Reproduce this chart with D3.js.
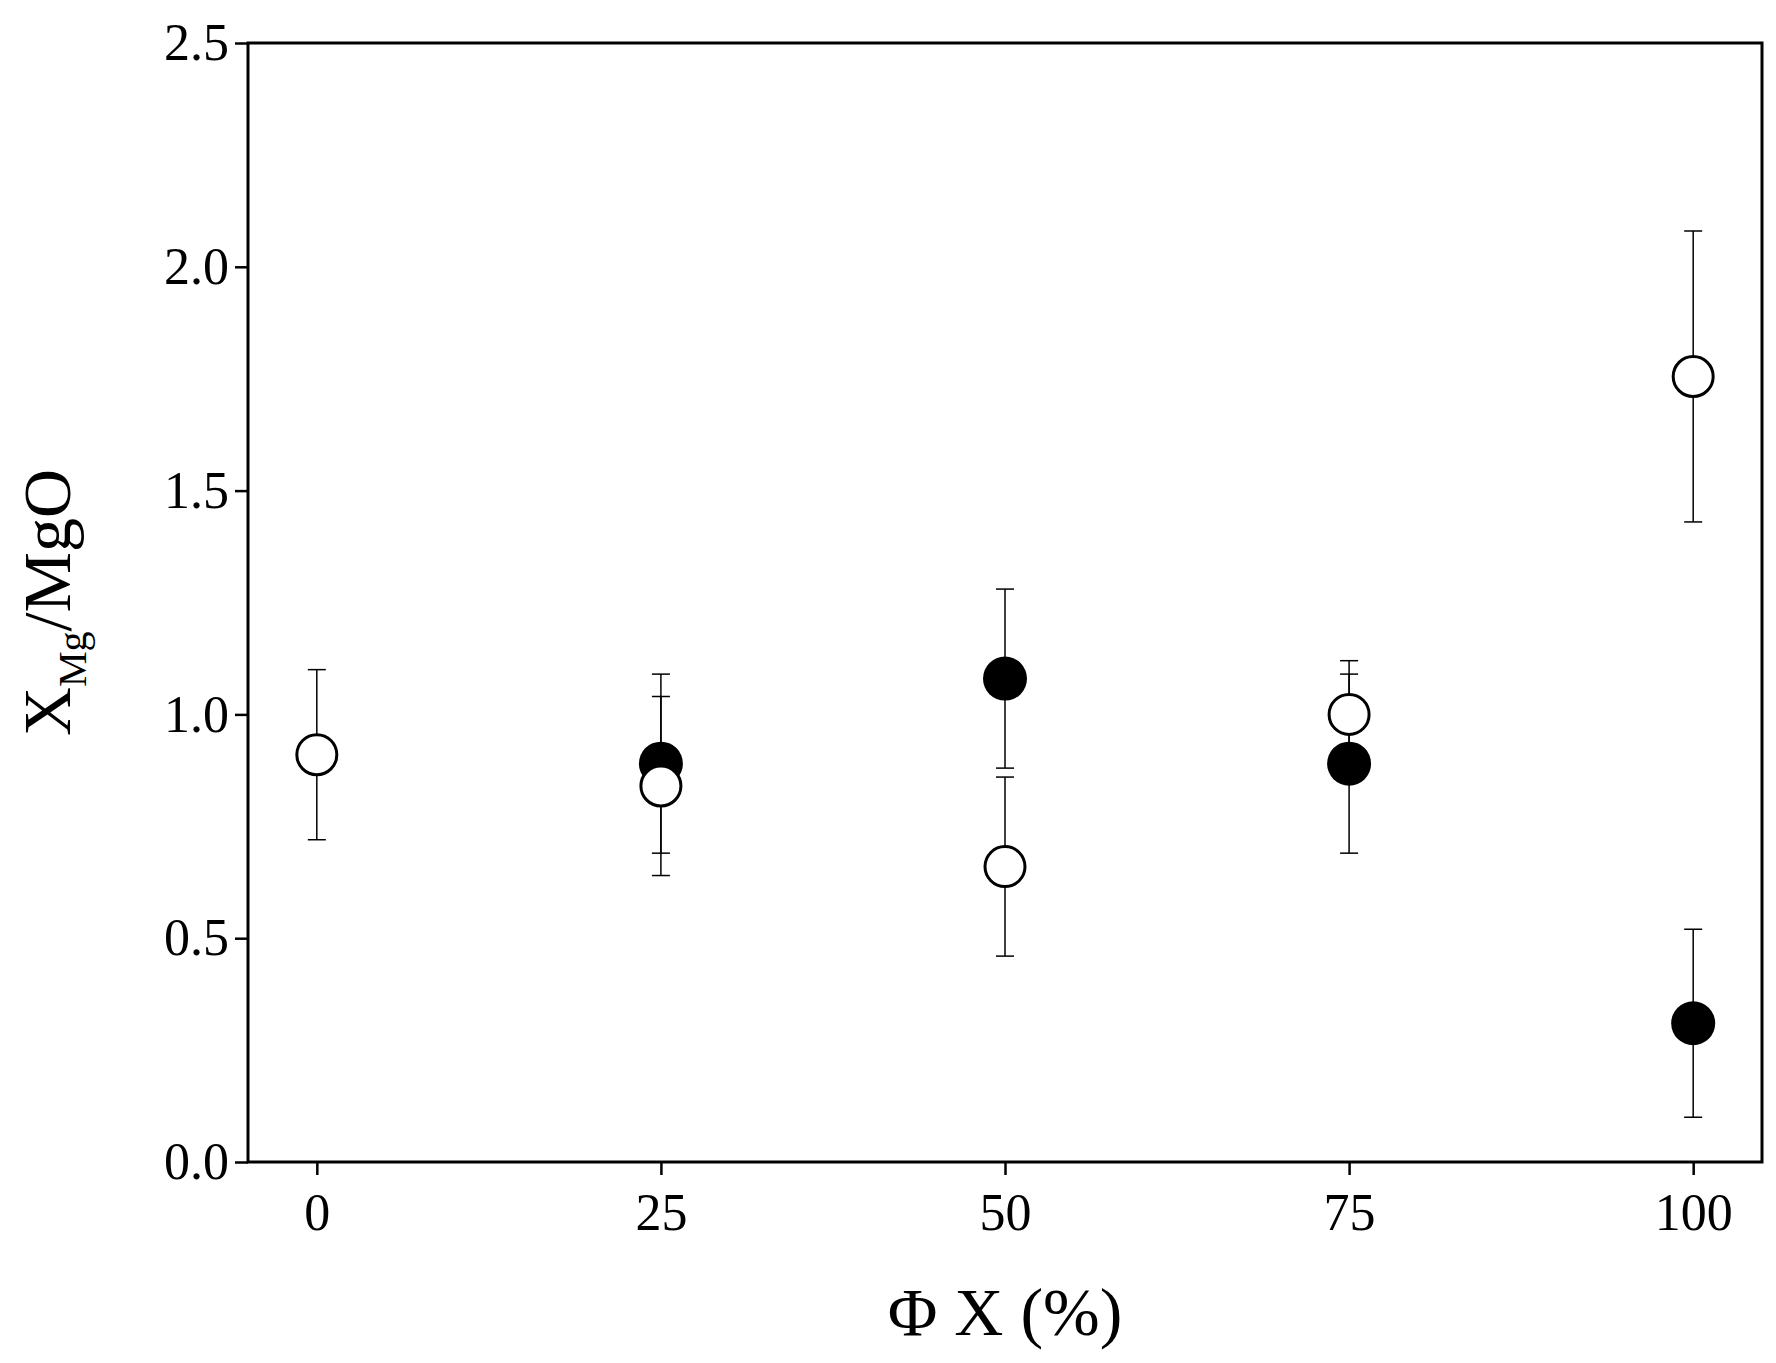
<!DOCTYPE html>
<html>
<head>
<script src="https://d3js.org/d3.v7.min.js"></script>
<style>
body { margin: 0; background: white; font-family: "Liberation Serif", serif; }
</style>
</head>
<body>
<svg id="chart" width="1776" height="1363"></svg>
<script>
// open circles
var openX = [0, 25, 50, 75, 100];
var openY = [0.91, 0.84, 0.66, 1.00, 1.755];
var openErr = [0.19, 0.20, 0.20, 0.12, 0.325];
// filled circles
var fillX = [25, 50, 75, 100];
var fillY = [0.89, 1.08, 0.89, 0.31];
var fillErr = [0.20, 0.20, 0.20, 0.21];
var xTicks = [0, 25, 50, 75, 100];
var yTicks = [0, 0.5, 1.0, 1.5, 2.0, 2.5];

var svg = d3.select("#chart");
var L = 248, R = 1762, T = 43, B = 1162;
var x = d3.scaleLinear().domain([-5, 105]).range([L, R]);
var y = d3.scaleLinear().domain([0, 2.5]).range([B, T]);

svg.append("g").attr("transform", "translate(0," + B + ")")
  .call(d3.axisBottom(x).tickValues(xTicks).tickSize(13).tickPadding(18).tickFormat(d3.format("d")))
  .call(g => g.select(".domain").remove())
  .selectAll("text").attr("font-size", 52).attr("font-family", "Liberation Serif");
svg.append("g").attr("transform", "translate(" + L + ",0)")
  .call(d3.axisLeft(y).tickValues(yTicks).tickSize(13).tickPadding(6).tickFormat(d3.format(".1f")))
  .call(g => g.select(".domain").remove())
  .selectAll("text").attr("font-size", 52).attr("font-family", "Liberation Serif");
svg.selectAll(".tick line").attr("stroke-width", 2.5);

svg.append("rect").attr("x", L).attr("y", T).attr("width", R - L).attr("height", B - T)
  .attr("fill", "none").attr("stroke", "black").attr("stroke-width", 3);

function errBars(xs, ys, es) {
  xs.forEach(function (d, i) {
    var cx = x(d), y1 = y(ys[i] - es[i]), y2 = y(ys[i] + es[i]);
    svg.append("line").attr("x1", cx).attr("x2", cx).attr("y1", y1).attr("y2", y2).attr("stroke", "black").attr("stroke-width", 1.5);
    [y1, y2].forEach(function (yy) {
      svg.append("line").attr("x1", cx - 9).attr("x2", cx + 9).attr("y1", yy).attr("y2", yy).attr("stroke", "black").attr("stroke-width", 1.5);
    });
  });
}
errBars(openX, openY, openErr);
errBars(fillX, fillY, fillErr);

svg.selectAll(".filled").data(fillX).enter().append("circle")
  .attr("cx", d => x(d)).attr("cy", (d, i) => y(fillY[i])).attr("r", 22)
  .attr("fill", "black");
svg.selectAll(".open").data(openX).enter().append("circle")
  .attr("cx", d => x(d)).attr("cy", (d, i) => y(openY[i])).attr("r", 20)
  .attr("fill", "white").attr("stroke", "black").attr("stroke-width", 3);

svg.append("text").attr("x", (x(0) + x(100)) / 2).attr("y", 1335).attr("text-anchor", "middle")
  .attr("font-size", 68).text("Φ X (%)");
var yt = svg.append("text").attr("transform", "translate(70," + (T + B) / 2 + ") rotate(-90)")
  .attr("text-anchor", "middle").attr("font-size", 68);
yt.append("tspan").text("X");
yt.append("tspan").attr("font-size", 40).attr("dy", 16).text("Mg");
yt.append("tspan").attr("dy", -16).text("/MgO");
</script>
</body>
</html>
